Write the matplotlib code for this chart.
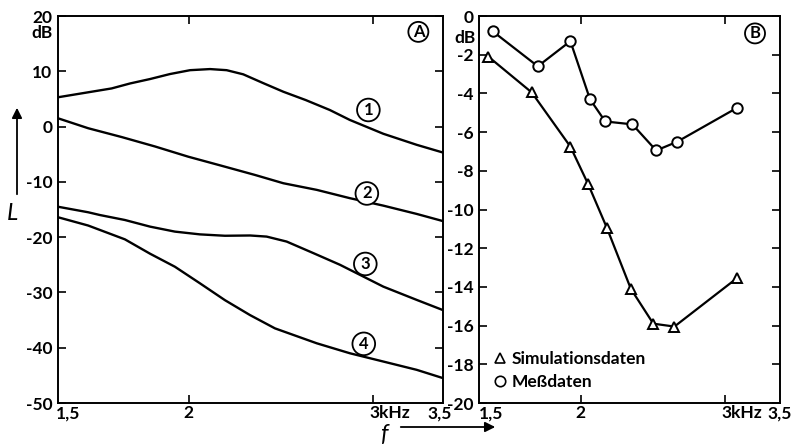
import matplotlib
matplotlib.use("Agg")
import matplotlib.pyplot as plt
from matplotlib.lines import Line2D
from matplotlib.patches import FancyArrowPatch
from matplotlib.transforms import ScaledTranslation
from matplotlib.ticker import NullLocator, FixedLocator, NullFormatter

plt.rcParams["font.family"] = ["Lato", "DejaVu Sans"]

# panel A: simulated level curves (f in kHz, L in dB)
f1 = [1.5, 1.603, 1.688, 1.758, 1.837, 1.919, 2.006, 2.096, 2.174, 2.255, 2.357, 2.463, 2.587, 2.728, 2.851, 3.069, 3.303, 3.5]
L1 = [5.3, 6.2, 6.9, 7.8, 8.6, 9.5, 10.2, 10.4, 10.2, 9.45, 7.85, 6.3, 4.8, 3.0, 1.2, -1.3, -3.3, -4.7]
f2 = [1.5, 1.603, 1.726, 1.857, 1.998, 2.151, 2.314, 2.463, 2.651, 2.851, 3.069, 3.303, 3.5]
L2 = [1.5, -0.3, -1.9, -3.6, -5.45, -7.1, -8.75, -10.25, -11.45, -12.95, -14.3, -15.8, -17.1]
f3 = [1.5, 1.603, 1.645, 1.738, 1.837, 1.940, 2.050, 2.166, 2.289, 2.374, 2.481, 2.632, 2.790, 3.069, 3.303, 3.5]
L3 = [-14.5, -15.5, -16.0, -16.9, -18.1, -19.0, -19.5, -19.75, -19.7, -19.9, -20.8, -22.9, -25.0, -28.95, -31.35, -33.2]
f4 = [1.5, 1.603, 1.645, 1.738, 1.837, 1.940, 2.050, 2.166, 2.289, 2.418, 2.651, 2.851, 3.069, 3.303, 3.5]
L4 = [-16.4, -17.9, -18.7, -20.4, -23.0, -25.35, -28.35, -31.4, -34.1, -36.5, -39.2, -41.0, -42.5, -44.0, -45.5]
curve_labels = ["1", "2", "3", "4"]
label_f = [2.97, 2.96, 2.95, 2.94]
label_L = [3.0, -12.1, -24.85, -39.3]

# panel B: simulated vs measured
f_sim = [1.54, 1.74, 1.94, 2.04, 2.15, 2.30, 2.45, 2.60, 3.10]
sim = [-2.1, -3.95, -6.75, -8.7, -10.95, -14.1, -15.9, -16.05, -13.55]
f_mess = [1.56, 1.77, 1.94, 2.05, 2.14, 2.31, 2.47, 2.62, 3.10]
mess = [-0.8, -2.6, -1.3, -4.3, -5.45, -5.6, -6.95, -6.5, -4.75]

x_ticks = [1.5, 2, 3, 3.5]
x_ticklabels = ["1,5", "2", "3kHz", "3,5"]
yA_ticks = [20, 10, 0, -10, -20, -30, -40, -50]
yB_ticks = [0, -2, -4, -6, -8, -10, -12, -14, -16, -18, -20]

W, H = 794, 444
fig = plt.figure(figsize=(W / 100, H / 100), dpi=100)

def box(l, r, t, b):
    return [l / W, 1 - b / H, (r - l) / W, (b - t) / H]

axA = fig.add_axes(box(58, 443, 16, 403))
axB = fig.add_axes(box(479, 780, 16, 403))

FS = 12.5
font = dict(fontsize=FS, fontweight="bold")

for ax in (axA, axB):
    ax.set_xscale("log")
    ax.set_xlim(1.5, 3.5)
    ax.xaxis.set_major_locator(FixedLocator([2, 3]))
    ax.xaxis.set_minor_locator(NullLocator())
    ax.xaxis.set_major_formatter(NullFormatter())
    ax.tick_params(direction="in", length=6, width=1.2, top=True, right=True, pad=4)
    for s in ax.spines.values():
        s.set_linewidth(1.4)

# x tick labels placed by hand: (ha, pixel nudge)
xlab_style = {
    axA: [("left", -2), ("center", 0), ("left", -4), ("center", -3)],
    axB: [("left", 0), ("center", -1), ("left", -4), ("center", 0)],
}
for ax, styles in xlab_style.items():
    tr = ax.get_xaxis_transform()
    for x, lab, (ha, dx) in zip(x_ticks, x_ticklabels, styles):
        ax.text(x, -0.006, lab, ha=ha, va="top", **font,
                transform=tr + ScaledTranslation(dx / 100, 0, fig.dpi_scale_trans))

# panel A
for fx, y in ((f1, L1), (f2, L2), (f3, L3), (f4, L4)):
    axA.plot(fx, y, color="black", lw=1.7, solid_joinstyle="round")
axA.set_ylim(-50, 20)
axA.set_yticks(yA_ticks)
axA.set_yticklabels([str(v) for v in yA_ticks], **font)
for x, y, lab in zip(label_f, label_L, curve_labels):
    axA.text(x, y, lab, ha="center", va="center", fontsize=12, fontweight="bold",
             bbox=dict(boxstyle="circle,pad=0.2", fc="white", ec="black", lw=1.3))
axA.text(0.936, 0.959, "A", transform=axA.transAxes, ha="center", va="center",
         fontsize=12, fontweight="bold",
         bbox=dict(boxstyle="circle,pad=0.12", fc="white", ec="black", lw=1.3))
axA.text(-0.015, 0.955, "dB", transform=axA.transAxes, ha="right", va="center", **font)

# panel B
mk = dict(ms=7.5, mfc="white", mec="black", mew=1.4)
axB.plot(f_sim, sim, color="black", lw=1.6, marker="^", **mk)
axB.plot(f_mess, mess, color="black", lw=1.6, marker="o", **mk)
axB.set_ylim(-20, 0)
axB.set_yticks(yB_ticks)
axB.set_yticklabels([str(v) for v in yB_ticks], **font)
axB.text(-0.012, 0.943, "dB", transform=axB.transAxes, ha="right", va="center", **font)
axB.text(0.917, 0.955, "B", transform=axB.transAxes, ha="center", va="center",
         fontsize=12, fontweight="bold",
         bbox=dict(boxstyle="circle,pad=0.12", fc="white", ec="black", lw=1.3))
handles = [Line2D([], [], ls="none", marker="^", ms=7, mfc="white", mec="black", mew=1.2),
           Line2D([], [], ls="none", marker="o", ms=7.5, mfc="white", mec="black", mew=1.2)]
axB.legend(handles, ["Simulationsdaten", "Meßdaten"], loc="lower left",
           bbox_to_anchor=(0.03, 0.015), borderaxespad=0, frameon=False, handlelength=0.6,
           handletextpad=0.35, labelspacing=0.4, prop=dict(size=FS, weight="bold"))

# axis names with arrows
fig.text(12 / W, 1 - 213 / H, "L", fontsize=17, style="italic", ha="center", va="center")
fig.add_artist(FancyArrowPatch((17 / W, 1 - 197 / H), (17 / W, 1 - 105 / H),
               transform=fig.transFigure, arrowstyle="-|>", mutation_scale=15, lw=1.3, color="black"))
fig.text(384 / W, 1 - 434 / H, "f", fontsize=17, style="italic", ha="center", va="center")
fig.add_artist(FancyArrowPatch((398 / W, 1 - 427 / H), (498 / W, 1 - 427 / H),
               transform=fig.transFigure, arrowstyle="-|>", mutation_scale=15, lw=1.3, color="black"))

fig.savefig("out.png", dpi=100)
